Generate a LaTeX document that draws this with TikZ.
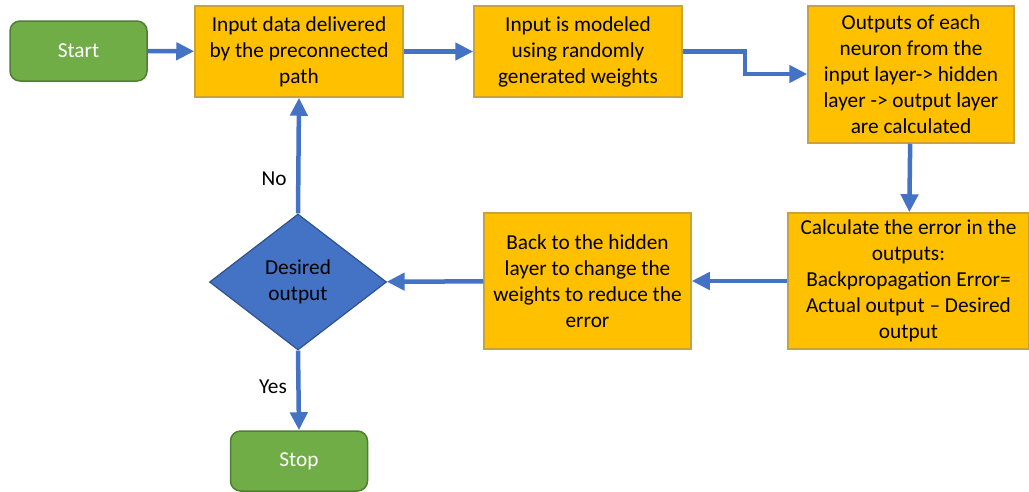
\documentclass[tikz,border=0pt]{standalone}
\usepackage{fontspec}
\setmainfont{Carlito}
\usetikzlibrary{shapes.geometric}
\usetikzlibrary{arrows.meta}
\definecolor{boxfill}{HTML}{FFC000}
\definecolor{boxline}{HTML}{C9A23A}
\definecolor{termfill}{HTML}{70AD47}
\definecolor{termline}{HTML}{507E32}
\definecolor{decfill}{HTML}{4472C4}
\definecolor{decline}{HTML}{2F528F}
\definecolor{flowblue}{HTML}{4472C4}

\begin{document}
\begin{tikzpicture}[x=1pt, y=-1pt, font=\fontsize{21.3}{26}\selectfont]
\tikzset{procbox/.style={draw=boxline, fill=boxfill, line width=1.5pt, align=center, inner sep=0pt}}
\tikzset{termbox/.style={draw=termline, fill=termfill, line width=1.5pt, rounded corners=10pt, text=white, minimum width=137pt, minimum height=60pt}}
\tikzset{decbox/.style={diamond, draw=decline, fill=decfill, line width=1.2pt, inner sep=0pt, align=center, minimum width=177pt, minimum height=136pt}}
\tikzset{flow/.style={draw=flowblue, line width=4.5pt, -{Triangle[length=18pt, width=17pt]}}}
    \useasboundingbox (0,0) rectangle (1029,491);

    \node[termbox] (start) at (78.5,51) {Start};
    \node[procbox, minimum width=208pt, minimum height=91pt] (deliver) at (299,51.5) {Input data delivered\\by the preconnected\\path};
    \node[procbox, minimum width=208pt, minimum height=91pt] (model) at (578,51.5) {Input is modeled\\using randomly\\generated weights};
    \node[procbox, minimum width=206pt, minimum height=137pt] (layers) at (911,74.5) {Outputs of each\\neuron from the\\input layer-> hidden\\layer -> output layer\\are calculated};
% % % % % % % % % % % % % % % % % % %
    \node[procbox, minimum width=241pt, minimum height=136pt] (error) at (908.5,281) {Calculate the error in the\\outputs:\\Backpropagation Error=\\Actual output -- Desired\\output};
    \node[procbox, minimum width=207pt, minimum height=136pt] (back) at (587.5,281) {Back to the hidden\\layer to change the\\weights to reduce the\\error};
    \node[decbox] (desired) at (298,282) {Desired\\output};
    \node[termbox] (stop) at (299,461) {Stop};
% % % % % % % % % % % % % % % % % % %
    \coordinate (bend) at (745,74);

    \draw[flow] (start) -- (deliver);
    \draw[flow] (deliver) -- (model);
    \draw[flow] (model.east) -| (bend) -- (layers.west |- bend);
    \draw[flow] (layers) -- (error);
    \draw[flow] (error) -- (back);
    \draw[flow] (back) -- (desired);
    \draw[flow] (desired.north) -- node[left=6pt, pos=0.3] {No} (deliver.south);
    \draw[flow] (desired.south) -- node[left=6pt, pos=0.45] {Yes} (stop.north);
\end{tikzpicture}
\end{document}
